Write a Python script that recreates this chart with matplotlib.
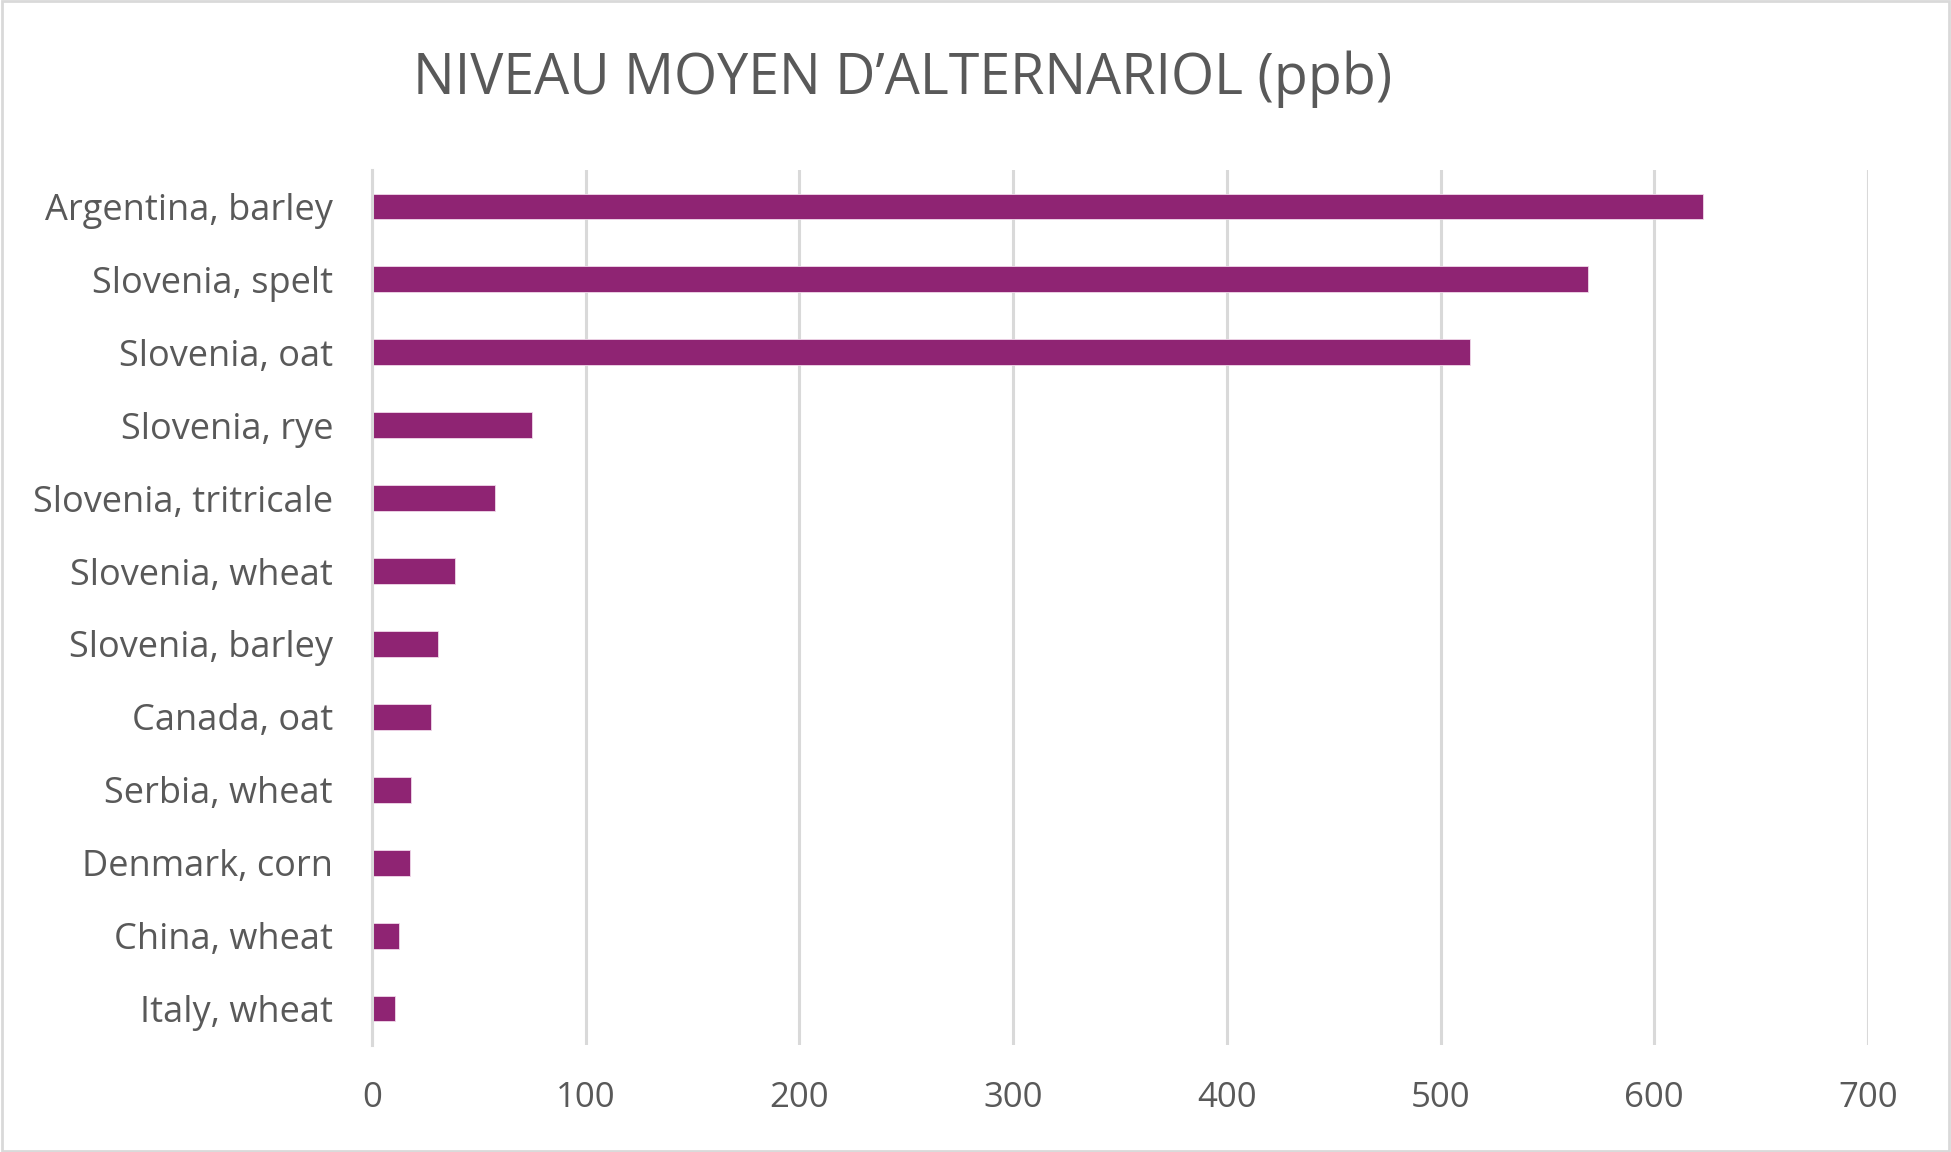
import matplotlib
matplotlib.use("Agg")
import matplotlib.pyplot as plt
from matplotlib.patches import Rectangle

categories = ["Argentina, barley", "Slovenia, spelt", "Slovenia, oat", "Slovenia, rye",
              "Slovenia, tritricale", "Slovenia, wheat", "Slovenia, barley", "Canada, oat",
              "Serbia, wheat", "Denmark, corn", "China, wheat", "Italy, wheat"]
values = [623, 569, 514, 75, 57.5, 38.8, 30.8, 27.6, 18.2, 17.8, 12.6, 10.7]
xticks = [0, 100, 200, 300, 400, 500, 600, 700]
title = "NIVEAU MOYEN D\u2019ALTERNARIOL (ppb)"

plt.rcParams['font.family'] = ['Open Sans', 'DejaVu Sans']
txt = '#595959'
grid = '#d9d9d9'

fig = plt.figure(figsize=(19.51, 11.52), dpi=100)
ax = fig.add_axes([372/1951, 1-1045/1152, (1868-372)/1951, (1045-170)/1152])

ypos = list(range(len(categories)))
ax.barh(ypos, values, height=0.355, color='#8F2473', edgecolor='#f0d8ea', linewidth=0.6, zorder=3)
ax.set_ylim(len(categories)-0.5, -0.5)
ax.set_xlim(0, 700)
ax.set_xticks(xticks)
ax.set_xticklabels([str(t) for t in xticks])
ax.set_yticks(ypos)
ax.set_yticklabels(categories)
ax.tick_params(axis='y', length=0, labelsize=26, colors=txt, pad=28)
ax.tick_params(axis='x', length=0, labelsize=25, colors=txt, pad=26)
ax.xaxis.grid(True, color=grid, linewidth=2.2, zorder=0)
ax.set_axisbelow(True)
for s in ['top', 'right', 'bottom']:
    ax.spines[s].set_visible(False)
ax.spines['left'].set_color(grid)
ax.spines['left'].set_linewidth(2.2)
ax.spines['left'].set_zorder(4)

fig.text(903/1951, 1-79/1152, title, ha='center', va='center', fontsize=40, color=txt)
fig.patches.append(Rectangle((0.001, 0.001), 0.998, 0.998, transform=fig.transFigure,
                             fill=False, edgecolor=grid, linewidth=2))

fig.savefig("out.png", dpi=100, facecolor='white')
